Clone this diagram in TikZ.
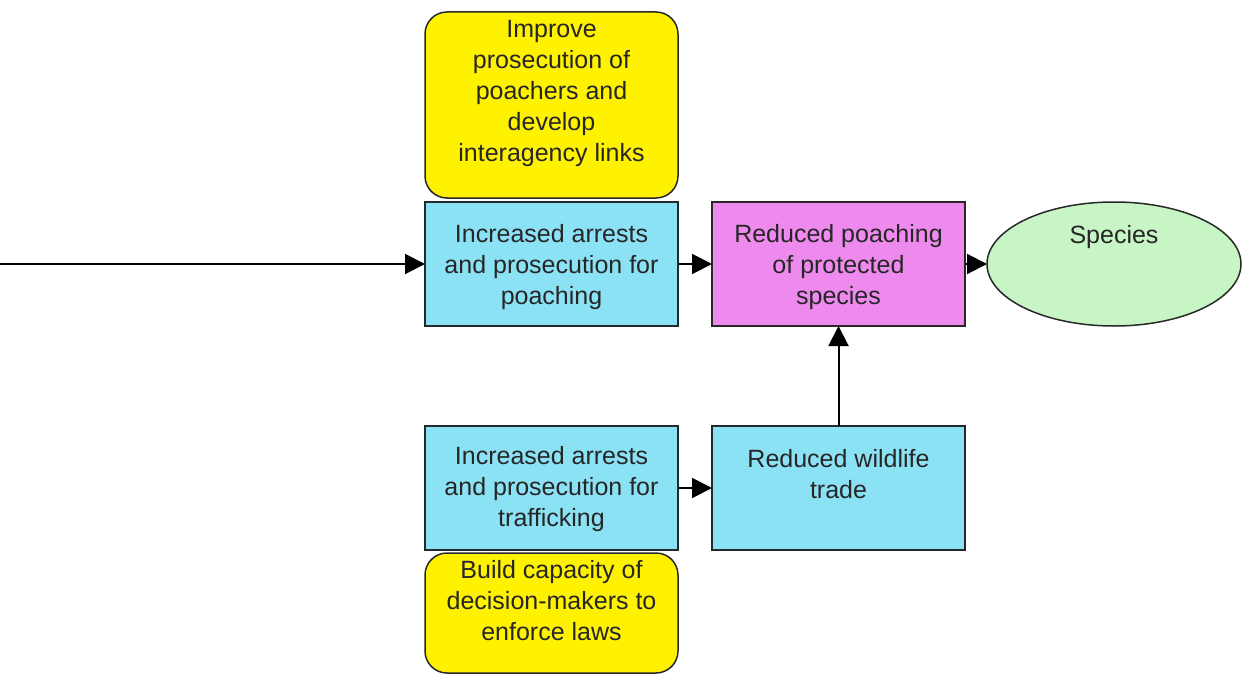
\documentclass[tikz,border=0pt]{standalone}
\usepackage{fontspec}
\setmainfont{Liberation Sans}
\usetikzlibrary{arrows.meta,shapes.geometric}
\definecolor{actyellow}{RGB}{255,242,0}
\definecolor{rescyan}{RGB}{140,226,245}
\definecolor{goalpink}{RGB}{238,138,238}
\definecolor{targetgreen}{RGB}{200,245,198}
\definecolor{edgegrey}{RGB}{40,40,40}
\begin{document}
\begin{tikzpicture}[x=1pt,y=-1pt,
  box/.style={draw=edgegrey, line width=1.5pt, minimum width=253pt, minimum height=124pt, inner sep=0pt, outer sep=0pt},
  strategy/.style={box, fill=actyellow, rounded corners=22pt},
  result/.style={box, fill=rescyan},
  goal/.style={box, fill=goalpink},
  target/.style={draw=edgegrey, line width=1.5pt, ellipse, fill=targetgreen, minimum width=254pt, minimum height=124pt, inner sep=0pt, outer sep=0pt},
  txt/.style={align=center, font=\fontsize{25}{31}\selectfont, text=black!85, inner sep=0pt},
  flow/.style={-{Triangle[length=20pt,width=20pt]}, line width=2pt, black}]
\useasboundingbox (0,0) rectangle (1244,674);

% shapes
\node[strategy, minimum height=186pt] (imp) at (551.5,105) {};
\node[result] (arp) at (551.5,264) {};
\node[goal] (red) at (838.5,264) {};
\node[target] (spe) at (1114,264) {};
\node[result] (art) at (551.5,488) {};
\node[result] (wtr) at (838.5,488) {};
\node[strategy, minimum height=120pt] (cap) at (551.5,613) {};

% labels
\node[txt] (impt) at (551.5,93) {Improve\\prosecution of\\poachers and\\develop\\interagency links};
\node[txt] (arpt) at (551.5,267.5) {Increased arrests\\and prosecution for\\poaching};
\node[txt] (redt) at (838.5,267.5) {Reduced poaching\\of protected\\species};
\node[txt] (spet) at (1114,237) {Species};
\node[txt] (artt) at (551.5,489) {Increased arrests\\and prosecution for\\trafficking};
\node[txt] (wtrt) at (838.5,474.5) {Reduced wildlife\\trade};
\node[txt] (capt) at (551.5,601) {Build capacity of\\decision-makers to\\enforce laws};

% connectors
\coordinate (src) at (0,264);
\draw[flow] (src) -- (arp.west);
\draw[flow] (arp) -- (red);
\draw[flow] (red) -- (spe);
\draw[flow] (art) -- (wtr);
\draw[flow] (wtr) -- (red);
\end{tikzpicture}
\end{document}
